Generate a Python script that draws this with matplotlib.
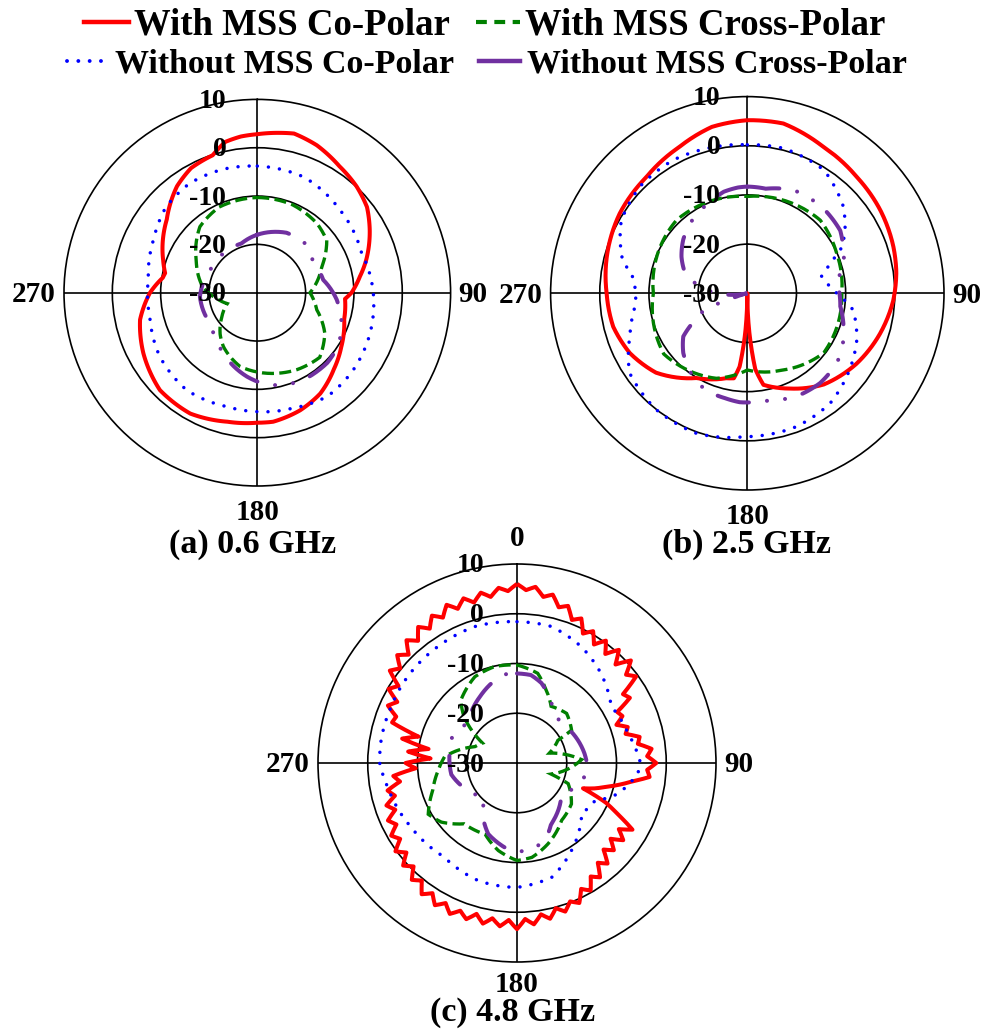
import numpy as np
import matplotlib
matplotlib.use('Agg')
import matplotlib.pyplot as plt
from matplotlib.lines import Line2D
from matplotlib.path import Path
from matplotlib.patches import PathPatch
from matplotlib.transforms import offset_copy

plt.rcParams['font.family'] = ['Liberation Serif', 'DejaVu Serif']
plt.rcParams['font.weight'] = 'bold'

# ---- データ (角度 deg, 利得 dB) ----
# (a) 0.6 GHz
a_co_with_ang = [0, 8, 13, 22, 33, 43, 52, 61, 73, 81, 90, 94, 107, 123, 135, 148, 160, 173, 180,
                 193, 209, 225, 242, 257, 270, 279, 282, 289, 309, 323, 332, 342, 348, 354]
a_co_with_db = [2.8, 3.4, 3.8, 2.9, 1.2, 0.1, -1.2, -3.4, -6.4, -8.5, -10.5, -11.8, -11.2, -9.3, -7.6,
                -5.4, -4.1, -3.1, -3.1, -2.6, -1.4, -1.5, -3.3, -5.1, -7.8, -10.2, -10.5, -9.4, -5.9,
                -2.4, -0.8, -0.1, 1.9, 2.5]
a_x_with_ang = [0, 22, 41, 53, 58, 68, 73, 90, 106, 121, 136, 153, 173, 193, 212, 222, 235, 250,
                262, 275, 298, 319, 336]
a_x_with_db = [-10.3, -10.4, -11.1, -12.0, -13.2, -15.6, -16.4, -19.1, -17.2, -13.7, -11.4, -12.1,
               -13.2, -14.3, -16.8, -18.5, -21.0, -23.4, -21.5, -18.8, -15.7, -11.9, -10.6]
a_co_wo_ang = [0, 22, 45, 69, 90, 110, 129, 146, 163, 181, 195, 216, 237, 257, 277, 297, 313, 328, 345]
a_co_wo_db = [-3.8, -4.2, -5.8, -6.9, -6.0, -5.2, -4.5, -4.1, -5.0, -5.4, -5.6, -5.1, -5.9, -7.2,
              -7.3, -5.9, -4.1, -3.4, -3.5]
a_x_wo_ang = [0, 26, 44, 61, 79, 95, 111, 123, 135, 152, 164, 176, 187, 209, 225, 243, 266, 296, 342]
a_x_wo_db = [-18.0, -16.2, -15.8, -16.8, -16.1, -13.5, -11.3, -10.0, -9.5, -9.6, -10.1, -11.1,
             -12.5, -15.6, -17.6, -18.3, -18.1, -19.2, -19.3]

# (b) 2.5 GHz
b_co_with_ang = [0, 12, 27, 43, 58, 72, 82, 93, 107, 123, 140, 156, 170, 174, 177, 180, 183, 186,
                 189, 194, 211, 229, 243, 256, 270, 289, 302, 319, 335, 348]
b_co_with_db = [5.2, 5.3, 3.6, 2.5, 1.9, 1.2, 0.6, -0.3, -1.8, -3.6, -5.8, -8.8, -11.1, -14.5, -22.0,
                -30.0, -22.0, -15.0, -12.5, -12.2, -9.9, -5.4, -3.2, -1.9, -1.4, -0.2, 0.6, 1.3, 2.8, 4.6]
b_x_with_ang = [0, 45, 66, 90, 128, 155, 180, 200, 234, 270, 316]
b_x_with_db = [-10.3, -9.0, -10.1, -10.8, -10.3, -12.8, -14.4, -11.6, -9.0, -10.9, -9.3]
b_co_wo_ang = [0, 14, 32, 48, 57, 64, 70, 77, 83, 90, 99, 113, 127, 143, 160, 180, 200, 218, 236,
               250, 262, 270, 278, 286, 293, 300, 315, 331, 344]
b_co_wo_db = [0.2, 0.4, -0.5, -3.7, -6.3, -8.6, -12.1, -14.5, -13.7, -11.8, -8.2, -5.8, -4.0, -2.0,
              -1.1, -0.85, 0.3, 0.05, -1.1, -4.6, -6.8, -7.5, -6.5, -3.5, -1.9, -0.4, 0.8, 1.0, 0.6]
b_x_wo_ang = [0, 10, 24, 31, 41, 56, 64, 73, 82, 98, 109, 118, 128, 141, 151, 159, 170, 184, 192,
              202, 211, 227, 236, 242, 249, 253, 258, 268, 276, 288, 299, 310, 321, 338, 347, 355]
b_x_wo_db = [-8.3, -8.4, -7.0, -6.9, -6.8, -7.2, -8.3, -9.5, -11.6, -10.9, -9.3, -8.0, -6.9, -6.5,
             -6.7, -7.1, -7.8, -7.8, -8.2, -8.5, -9.4, -12.2, -14.3, -17.6, -20.8, -27.7, -30.0,
             -25.0, -21.0, -16.7, -14.7, -13.0, -11.6, -9.9, -8.8, -8.4]

# (c) 4.8 GHz
c_co_with_ang = list(range(0, 360, 3))
c_co_with_db = [6.0, 4.8, 5.6, 3.8, 4.6, 2.4, 3.2, 0.8, 1.8, -0.8, 0.6, -1.6, 0.4, -1.8, 0.6, -2.0,
                0.8, -1.8, -0.4, -4.6, -3.8, -7.4, -6.8, -8.6, -6.6, -7.4, -4.8, -5.4, -2.8, -3.8,
                -2.0, -3.8, -3.2, -6.5, -9.0, -11.5, -13.5, -15.8, -10.5, -7.2, -3.2, -5.6, -3.6,
                -5.8, -3.8, -5.4, -2.8, -4.2, -1.6, -2.8, -0.4, -1.6, 0.8, -0.2, 1.4, 0.2, 2.0, 0.8,
                2.6, 1.4, 3.4, 1.6, 3.0, 1.6, 3.0, 1.4, 3.0, 1.8, 3.2, 1.6, 3.0, 1.2, 2.6, 0.4, 1.6,
                -0.6, 0.8, -1.4, 0.2, -2.0, -0.8, -2.8, -1.6, -3.8, -2.4, -4.6, -3.4, -6.2, -5.0,
                -9.6, -7.6, -12.6, -8.0, -12.0, -6.4, -9.5, -3.6, -4.0, -1.6, -3.0, -0.2, -1.6, 1.6,
                0.2, 2.4, 0.8, 3.2, 1.6, 3.8, 2.2, 4.2, 2.8, 4.8, 3.2, 4.8, 3.4, 5.0, 3.8, 5.4, 4.6]
c_x_with_ang = [0, 13, 20, 31, 45, 59, 61, 73, 87, 108, 112, 127, 142, 159, 171, 180, 192, 204, 221,
                232, 240, 252, 264, 275, 291, 300, 311, 318, 334, 347]
c_x_with_db = [-10.3, -11.5, -13.7, -16.7, -15.9, -17.2, -20.6, -23.2, -17.0, -22.8, -18.9, -16.3,
               -15.4, -12.6, -10.8, -10.4, -12.0, -14.3, -13.8, -10.7, -9.4, -12.2, -14.0, -15.4,
               -20.9, -22.0, -15.9, -13.1, -10.7, -10.1]
c_co_wo_ang = [0, 14, 29, 43, 59, 75, 89, 95, 107, 116, 128, 148, 163, 180, 198, 218, 239, 259, 270,
               280, 293, 308, 326, 343]
c_co_wo_db = [-1.6, -1.7, -3.3, -5.3, -7.9, -6.9, -5.3, -5.6, -8.8, -12.6, -13.5, -9.3, -6.0, -5.0,
              -5.1, -6.1, -5.1, -3.6, -2.4, -2.3, -2.3, -2.0, -1.7, -1.3]
c_x_wo_ang = [0, 9, 17, 27, 39, 56, 82, 96, 110, 125, 151, 160, 172, 184, 202, 212, 223, 237, 260,
              278, 294, 309, 331, 342, 354]
c_x_wo_db = [-12.0, -12.1, -13.2, -15.5, -18.0, -17.6, -16.3, -15.7, -16.9, -19.1, -15.9, -13.5,
             -12.2, -12.3, -14.6, -17.1, -20.5, -19.1, -16.6, -16.3, -15.9, -17.3, -14.7, -13.2, -11.9]

series_labels = ['With MSS Co-Polar', 'With MSS Cross-Polar',
                 'Without MSS Co-Polar', 'Without MSS Cross-Polar']
captions = ['(a) 0.6 GHz', '(b) 2.5 GHz', '(c) 4.8 GHz']
r_ticks = [10, 0, -10, -20, -30]
theta_labels = ['0', '90', '180', '270']

# 線のスタイル
styles = [
    dict(edgecolor='#ff0000', lw=2.9, linestyle='-', joinstyle='round'),
    dict(edgecolor='#008000', lw=2.4, linestyle=(0, (3.6, 1.6))),
    dict(edgecolor='#0000ff', lw=2.5, linestyle=(0, (0.01, 3.2)), capstyle='round'),
    dict(edgecolor='#7030a0', lw=2.9, linestyle=(0, (8.0, 4.5, 0.01, 4.5, 0.01, 4.5)), capstyle='round'),
]

panels = [
    [(a_co_with_ang, a_co_with_db), (a_x_with_ang, a_x_with_db),
     (a_co_wo_ang, a_co_wo_db), (a_x_wo_ang, a_x_wo_db)],
    [(b_co_with_ang, b_co_with_db), (b_x_with_ang, b_x_with_db),
     (b_co_wo_ang, b_co_wo_db), (b_x_wo_ang, b_x_wo_db)],
    [(c_co_with_ang, c_co_with_db), (c_x_with_ang, c_x_with_db),
     (c_co_wo_ang, c_co_wo_db), (c_x_wo_ang, c_x_wo_db)],
]

W, H = 982, 1030
fig = plt.figure(figsize=(W / 100, H / 100), dpi=100)

# 各極座標の中心と半径 (ピクセル)
geom = [(257.3, 292.7, 193.3), (747.3, 293.3, 196.7), (517.0, 763.0, 199.0)]
rlab_off = [-31, -27, -33]
bottom_off = [-26, -26, -22]
cap_pos = [(253, 553), (747, 553), (513, 1021)]


def closed(ang, val):
    a = np.deg2rad(np.r_[ang, ang[0] + 360])
    v = np.r_[val, val[0]]
    return a, v


for i, (cx, cy, R) in enumerate(geom):
    ax = fig.add_axes([(cx - R) / W, (H - cy - R) / H, 2 * R / W, 2 * R / H], projection='polar')
    ax.set_theta_zero_location('N')
    ax.set_theta_direction(-1)

    # 極座標上で (θ, r) を直線的につなぐ -> 円弧状に描かれる
    for (ang, val), st in zip(panels[i], styles):
        t, r = closed(ang, val)
        path = Path(np.column_stack([t, r]), _interpolation_steps=24)
        ax.add_patch(PathPatch(path, fill=False, zorder=3, **st))

    ax.set_ylim(-30, 10)
    ax.set_yticks([-20, -10, 0])
    ax.set_yticklabels([])
    ax.set_xticks(np.deg2rad([0, 90, 180, 270]))
    ax.set_xticklabels([])
    ax.tick_params(length=0)
    ax.grid(True, color='black', lw=1.2)
    ax.spines['polar'].set_color('black')
    ax.spines['polar'].set_linewidth(1.2)

    # 半径方向ラベル
    for lab in r_ticks:
        tr = offset_copy(ax.transData, fig=fig, x=rlab_off[i], y=-2, units='dots')
        ax.text(0, lab, str(lab), transform=tr, ha='right', va='center', fontsize=20,
                fontweight='bold', zorder=5)

    # 角度ラベル
    specs = [(0, 0, 26, 'center'), (90, 8, -2, 'left'), (180, 0, bottom_off[i], 'center'),
             (270, -8, -2, 'right')]
    for lab, (th, dx, dy, ha) in zip(theta_labels, specs):
        tr = offset_copy(ax.transData, fig=fig, x=dx, y=dy, units='dots')
        ax.text(np.deg2rad(th), 10, lab, transform=tr, ha=ha, va='center', fontsize=21,
                fontweight='bold')

    fig.text(cap_pos[i][0] / W, 1 - cap_pos[i][1] / H, captions[i], ha='center', va='baseline',
             fontsize=24.5, fontweight='bold')

# 凡例 (2段)
h_red = Line2D([], [], color='#ff0000', lw=3.2)
h_green = Line2D([], [], color='#008000', lw=3.0, ls=(0, (2.6, 1.8)))
h_blue = Line2D([], [], color='#0000ff', lw=2.8, ls=(0, (0.01, 2.9)), dash_capstyle='round')
h_purple = Line2D([], [], color='#7030a0', lw=3.2)

leg1 = fig.legend([h_red, h_green], series_labels[:2], loc='center', bbox_to_anchor=(0.494, 1 - 25 / H),
                  ncol=2, prop=dict(family=['Liberation Serif'], weight='bold', size=26.5),
                  handlelength=1.2, handletextpad=0.15, columnspacing=0.7, frameon=True,
                  facecolor='white', edgecolor='none', framealpha=1, borderpad=0.1, borderaxespad=0)
leg2 = fig.legend([h_blue, h_purple], series_labels[2:], loc='center', bbox_to_anchor=(0.496, 1 - 64 / H),
                  ncol=2, prop=dict(family=['Liberation Serif'], weight='bold', size=24.5),
                  handlelength=1.2, handletextpad=0.2, columnspacing=0.75, frameon=True,
                  facecolor='white', edgecolor='none', framealpha=1, borderpad=0.1, borderaxespad=0)

fig.savefig('out.png', dpi=100)
